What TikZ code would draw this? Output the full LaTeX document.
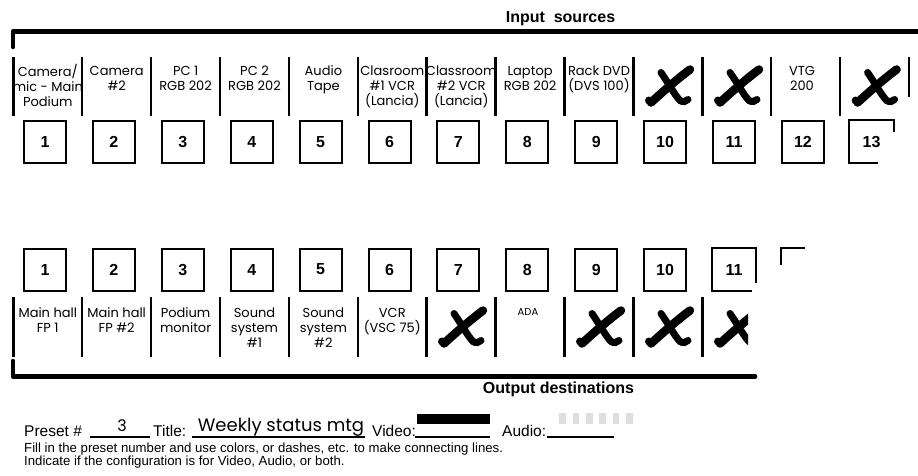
\documentclass[tikz,border=0pt]{standalone}
\usepackage{fontspec}
\setmainfont{Liberation Sans}
\newfontfamily\hand{Poppins}
\newcommand\fl{\rule{0pt}{11pt}}
\begin{document}
\begin{tikzpicture}[x=1pt,y=-1pt,
  lab/.style={anchor=north, inner sep=0pt, align=center, font=\hand\fontsize{13}{15}\selectfont},
  smalllab/.style={anchor=base, inner sep=0pt, font=\hand\fontsize{10}{12}\selectfont},
  numbox/.style={draw, line width=2pt, minimum size=42pt, inner sep=0pt, font=\bfseries\fontsize{16}{18}\selectfont},
  numtext/.style={inner sep=0pt, font=\bfseries\fontsize{16}{18}\selectfont},
  divider/.style={line width=2.5pt},
  partbox/.style={line width=2pt},
  bracket/.style={line width=4.5pt, line cap=round, line join=round},
  heading/.style={font=\bfseries\fontsize{16}{18}\selectfont, anchor=base, inner sep=0pt},
  formtext/.style={font=\fontsize{15.5}{17}\selectfont, anchor=base west, inner sep=0pt},
  notetext/.style={font=\fontsize{13.2}{14}\selectfont, anchor=base west, inner sep=0pt},
  handtext/.style={font=\hand\fontsize{18}{20}\selectfont, anchor=base, inner sep=0pt},
  uline/.style={line width=1.5pt},
  bigcross/.pic={
    \draw[line width=8.5pt, line cap=round] (20,-18) .. controls (8,-9) and (-6,3) .. (-19,15);
    \fill (-21,13) circle (4pt);
    \draw[line width=7pt, line cap=round] (-9,-15) .. controls (-2,-5) and (5,8) .. (10,13) .. controls (13,15) and (16,14) .. (18,12);
  }]
\useasboundingbox (0,0) rectangle (918,475);

% ---------- headings ----------
\node[heading] (insrc) at (560.5,22) {Input\ \ sources};
\node[heading] (outdst) at (558.5,393) {Output destinations};

% ---------- brackets ----------
\draw[bracket] (13,47) -- (13,31.5) -- (918,31.5);
\draw[bracket] (13,361) -- (13,376.5) -- (755,376.5);

% ---------- top dividers ----------
\foreach \k in {0,...,12}
  \draw[divider] (13.3+68.9*\k,57) -- (13.3+68.9*\k,116);
\draw[divider] (909,57) -- (909,97);

% ---------- top labels ----------
\node[lab] (in1) at (47.8,64) {\fl Camera/\\mic - Main\\Podium};
\node[lab] (in2) at (116.7,64) {\fl Camera\\\#2};
\node[lab] (in3) at (185.6,64) {\fl PC 1\\RGB 202};
\node[lab] (in4) at (254.5,64) {\fl PC 2\\RGB 202};
\node[lab] (in5) at (323.4,64) {\fl Audio\\Tape};
\node[lab] (in6) at (392.3,64) {\fl Clasroom\\\#1 VCR\\(Lancia)};
\node[lab] (in7) at (461.2,64) {\fl Classroom\\\#2 VCR\\(Lancia)};
\node[lab] (in8) at (530.1,64) {\fl Laptop\\RGB 202};
\node[lab] (in9) at (599.0,64) {\fl Rack DVD\\(DVS 100)};
\node[lab] (in12) at (802,64) {\fl VTG\\200};
\pic at (670,87.5) {bigcross};
\pic at (739,87.5) {bigcross};
\pic at (876.6,87.5) {bigcross};

% ---------- top number boxes ----------
\foreach \k [evaluate=\k as \n using int(\k+1)] in {0,...,11}
  \node[numbox] (src\n) at (45+68.9*\k,142) {\n};
\draw[partbox] (894,132) -- (894,120) -- (849,120) -- (849,163) -- (878,163);
\node[numtext] (src13) at (871.5,142) {13};

% ---------- bottom number boxes ----------
\foreach \k [evaluate=\k as \n using int(\k+1)] in {0,...,9}
  \node[numbox] (dst\n) at (45+68.9*\k,269.5) {\n};
\draw[partbox] (756,283) -- (756,248) -- (712,248) -- (712,291) -- (752,291);
\node[numtext] (dst11) at (734,269.5) {11};
\draw[partbox] (781,265) -- (781,248) -- (805,248);

% ---------- bottom dividers ----------
\foreach \k in {0,...,10}
  \draw[divider] (13.3+68.9*\k,297) -- (13.3+68.9*\k,357);

% ---------- bottom labels ----------
\node[lab] (out1) at (47.8,306) {\fl Main hall\\FP 1};
\node[lab] (out2) at (116.7,306) {\fl Main hall\\FP \#2};
\node[lab] (out3) at (185.6,306) {\fl Podium\\monitor};
\node[lab] (out4) at (254.5,306) {\fl Sound\\system\\\#1};
\node[lab] (out5) at (323.4,306) {\fl Sound\\system\\\#2};
\node[lab] (out6) at (392.3,306) {\fl VCR\\(VSC 75)};
\node[smalllab] (out8) at (528,315) {ADA};
\pic at (463,328.5) {bigcross};
\pic at (601,328.5) {bigcross};
\pic at (670,328.5) {bigcross};
\begin{scope}
  \clip (700,295) rectangle (748,362);
  \pic at (739,328.5) {bigcross};
\end{scope}

% ---------- form line ----------
\node[formtext] (preset) at (24,436) {Preset \#};
\draw[uline] (90,437) -- (150,437);
\node[handtext, font=\hand\fontsize{16}{18}\selectfont] (presetnum) at (122,431) {3};
\node[formtext] (title) at (153,436) {Title:};
\draw[uline] (192,437) -- (365,437);
\node[handtext] (titletext) at (281,431) {Weekly status mtg};
\node[formtext] (video) at (372,436) {Video:};
\draw[uline] (415,437) -- (490,437);
\fill (417,414) rectangle (490,424);
\node[formtext] (audio) at (502,436) {Audio:};
\draw[uline] (547,437) -- (614,437);
\foreach \i in {0,...,5}
  \fill[black!13] (559.3+13.33*\i,413) rectangle (566+13.33*\i,424);
\node[notetext] (note1) at (24,452) {Fill in the preset number and use colors, or dashes, etc. to make connecting lines.};
\node[notetext] (note2) at (24,465) {Indicate if the configuration is for Video, Audio, or both.};
\end{tikzpicture}
\end{document}
